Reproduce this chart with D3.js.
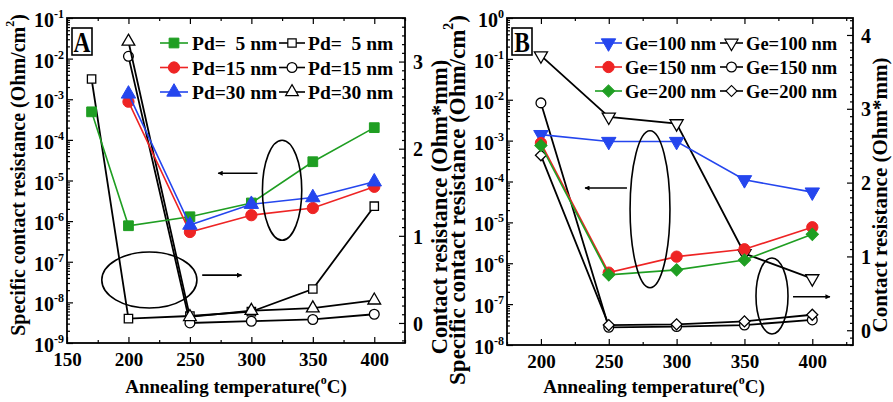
<!DOCTYPE html>
<html><head><meta charset="utf-8">
<script src="https://cdn.jsdelivr.net/npm/d3@7"></script>
<style>
body{margin:0;background:#fff}
svg text{font-family:"Liberation Serif","Times New Roman",serif;font-weight:bold;fill:#000}
</style></head><body>
<svg id="chart" width="893" height="402"></svg>
<script>
// ---- Panel A: Pd layer thickness ----
const tempsA5 = [170, 200, 250, 300, 350, 400];
const tempsA = [200, 250, 300, 350, 400];
const rcPd5 = [4.9e-4, 7.7e-7, 1.28e-6, 2.8e-6, 2.9e-5, 2.0e-4];
const rcPd15 = [8.7e-4, 5.4e-7, 1.4e-6, 2.1e-6, 7.0e-6];
const rcPd30 = [1.35e-3, 8.0e-7, 2.6e-6, 3.8e-6, 9.3e-6];
const rPd5 = [2.80, 0.05, 0.08, 0.13, 0.39, 1.34];
const rPd15 = [3.06, 0.00, 0.02, 0.04, 0.10];
const rPd30 = [3.23, 0.07, 0.14, 0.17, 0.26];

// ---- Panel B: Ge layer thickness ----
const tempsB = [200, 250, 300, 350, 400];
const rcGe100 = [1.4e-3, 9.5e-4, 9.5e-4, 1.1e-4, 5.5e-5];
const rcGe150 = [8.7e-4, 5.9e-7, 1.45e-6, 2.2e-6, 7.6e-6];
const rcGe200 = [7.6e-4, 5.2e-7, 6.9e-7, 1.2e-6, 5.1e-6];
const rGe100 = [3.72, 2.89, 2.80, 1.04, 0.70];
const rGe150 = [3.08, 0.04, 0.05, 0.07, 0.14];
const rGe200 = [2.37, 0.07, 0.08, 0.12, 0.21];

// ---- Tick labels ----
const xTicksA = [150, 200, 250, 300, 350, 400];
const xTicksB = [200, 250, 300, 350, 400];
const logExpA = [-9, -8, -7, -6, -5, -4, -3, -2, -1];
const logExpB = [-8, -7, -6, -5, -4, -3, -2, -1, 0];
const rTicksA = [0, 1, 2, 3];
const rTicksB = [0, 1, 2, 3, 4];

const C_GREEN = "#1f9e22", C_RED = "#ee2424", C_BLUE = "#2546ee";

const svg = d3.select("#chart");
const defs = svg.append("defs");
defs.append("marker").attr("id", "arrowhead").attr("viewBox", "0 0 10 10")
  .attr("refX", 9).attr("refY", 5).attr("markerWidth", 7).attr("markerHeight", 5)
  .attr("markerUnits", "userSpaceOnUse").attr("orient", "auto")
  .append("path").attr("d", "M0,0L10,5L0,10Z").attr("fill", "#000");

function symbolPath(kind, size) {
  const map = {square: d3.symbolSquare, circle: d3.symbolCircle, triangle: d3.symbolTriangle,
               down: d3.symbolTriangle, diamond: d3.symbolSquare};
  return d3.symbol().type(map[kind]).size(size)();
}
function symbolRotate(kind) {
  return kind === "down" ? 180 : kind === "diamond" ? 45 : 0;
}

function drawPanel(p) {
  const g = svg.append("g");
  const x = d3.scaleLinear().domain(p.xDomain).range([p.left, p.right]);
  const y = d3.scaleLog().domain(p.yDomain).range([p.bottom, p.top]);
  const y2 = d3.scaleLinear().domain(p.y2Domain).range([p.bottom, p.top]);

  // tick marks (pointing inward)
  const tickStyle = sel => { sel.select(".domain").remove(); sel.selectAll("line").attr("stroke", "#000").attr("stroke-width", 1.2); };
  const xMinor = d3.range(p.xDomain[0], p.xDomain[1] + 1, 25).filter(v => v % 50 !== 0);
  [["bottom", p.bottom, d3.axisBottom], ["top", p.top, d3.axisTop]].forEach(([side, pos, ax]) => {
    g.append("g").attr("transform", `translate(0,${pos})`)
      .call(ax(x).tickValues(p.xTicks).tickSize(-6).tickFormat(side === "bottom" ? d3.format("d") : () => "").tickPadding(9))
      .call(tickStyle)
      .call(s => s.selectAll("text").attr("font-size", 19).attr("font-family", null).attr("dy", "0.72em"));
    g.append("g").attr("transform", `translate(0,${pos})`)
      .call(ax(x).tickValues(xMinor).tickSize(-3).tickFormat(() => ""))
      .call(tickStyle);
  });

  // log axis (left)
  const decades = p.logExp.map(e => Math.pow(10, e));
  const minorLog = [];
  for (let e = p.logExp[0]; e < p.logExp[p.logExp.length - 1]; e++)
    for (let m = 2; m <= 9; m++) minorLog.push(m * Math.pow(10, e));
  g.append("g").attr("transform", `translate(${p.left},0)`)
    .call(d3.axisLeft(y).tickValues(decades).tickSize(-6).tickFormat(() => ""))
    .call(tickStyle);
  g.append("g").attr("transform", `translate(${p.left},0)`)
    .call(d3.axisLeft(y).tickValues(minorLog).tickSize(-3).tickFormat(() => ""))
    .call(tickStyle);
  p.logExp.forEach((e, i) => {
    const t = g.append("text").attr("x", p.left - 3).attr("y", y(decades[i]) + 9)
      .attr("text-anchor", "end").attr("font-size", 20);
    t.append("tspan").text("10");
    t.append("tspan").attr("dy", -9).attr("font-size", 12).text(e === 0 ? "0" : "-" + Math.abs(e));
  });

  // linear axis (right)
  const rMinor = d3.range(Math.ceil(p.y2Domain[0] * 10), Math.floor(p.y2Domain[1] * 10) + 1)
    .filter(v => v % 10 !== 0).map(v => v / 10);
  g.append("g").attr("transform", `translate(${p.right},0)`)
    .call(d3.axisRight(y2).tickValues(p.rTicks).tickSize(-6).tickPadding(8).tickFormat(d3.format("d")))
    .call(tickStyle)
    .call(s => s.selectAll("text").attr("font-size", 20).attr("font-family", null).attr("dy", "0.36em"));
  g.append("g").attr("transform", `translate(${p.right},0)`)
    .call(d3.axisRight(y2).tickValues(rMinor).tickSize(-3).tickFormat(() => ""))
    .call(tickStyle);

  // frame
  g.append("rect").attr("x", p.left).attr("y", p.top)
    .attr("width", p.right - p.left).attr("height", p.bottom - p.top)
    .attr("fill", "none").attr("stroke", "#000").attr("stroke-width", 1.8);

  // series
  const lineL = d3.line().x(d => x(d[0])).y(d => y(d[1]));
  const lineR = d3.line().x(d => x(d[0])).y(d => y2(d[1]));
  const plot = (s, scaleY, lineGen) => {
    const pts = s.t.map((t, i) => [t, s.v[i]]);
    g.append("path").datum(pts).attr("d", lineGen).attr("fill", "none")
      .attr("stroke", s.color).attr("stroke-width", s.filled ? 1.6 : 1.8);
    g.selectAll(null).data(pts).join("path")
      .attr("transform", d => `translate(${x(d[0])},${scaleY(d[1])}) rotate(${symbolRotate(s.sym)})`)
      .attr("d", symbolPath(s.sym, s.size))
      .attr("fill", s.filled ? s.color : "#fff")
      .attr("stroke", s.filled ? s.color : "#000").attr("stroke-width", s.filled ? 1 : 1.3);
  };
  p.open.forEach(s => plot(s, y2, lineR));
  p.filled.forEach(s => plot(s, y, lineL));

  // annotations: ellipses grouping curves with arrows to their axis
  p.notes.forEach(n => {
    const cx = x(n.cx), cy = y(n.cy);
    const rx = x(n.cx + n.rx) - cx, ry = y(n.cy) - y(n.cy * Math.pow(10, n.ry));
    g.append("ellipse").attr("cx", cx).attr("cy", cy).attr("rx", rx).attr("ry", ry)
      .attr("fill", "none").attr("stroke", "#000").attr("stroke-width", 1.6);
    g.append("line").attr("x1", x(n.ax1)).attr("x2", x(n.ax2)).attr("y1", y(n.ay)).attr("y2", y(n.ay))
      .attr("stroke", "#000").attr("stroke-width", 1.6).attr("marker-end", "url(#arrowhead)");
  });

  // panel letter
  g.append("rect").attr("x", p.left + 5).attr("y", p.top + 10).attr("width", 20).attr("height", 27)
    .attr("fill", "#fff").attr("stroke", "#000").attr("stroke-width", 1.6);
  g.append("text").attr("transform", `translate(${p.left + 15},${p.top + 34}) scale(0.78,1)`)
    .attr("text-anchor", "middle").attr("font-size", 30).text(p.letter);

  // legend
  p.legend.forEach((col, ci) => {
    col.forEach((s, ri) => {
      const ly = p.legY + ri * p.legDy;
      const c = p.legCols[ci];
      g.append("line").attr("x1", c[0]).attr("x2", c[1]).attr("y1", ly).attr("y2", ly)
        .attr("stroke", s.color).attr("stroke-width", 1.6);
      g.append("path").attr("transform", `translate(${(c[0] + c[1]) / 2},${ly}) rotate(${symbolRotate(s.sym)})`)
        .attr("d", symbolPath(s.sym, s.size))
        .attr("fill", s.filled ? s.color : "#fff")
        .attr("stroke", s.filled ? s.color : "#000").attr("stroke-width", s.filled ? 1 : 1.2);
      g.append("text").attr("x", c[2]).attr("y", ly + 7).attr("font-size", p.legFont)
        .attr("xml:space", "preserve").style("white-space", "pre").text(s.label);
    });
  });

  // axis titles
  const xt = g.append("text").attr("x", (p.left + p.right) / 2 + p.xTitleDx).attr("y", 393)
    .attr("text-anchor", "middle").attr("font-size", 19);
  xt.append("tspan").text("Annealing temperature(");
  xt.append("tspan").attr("font-size", 12).attr("dy", -9).text("o");
  xt.append("tspan").attr("dy", 9).text("C)");

  const yt = g.append("text").attr("transform", `translate(${p.yTitle[0]},${p.yTitle[1]}) rotate(-90)`)
    .attr("text-anchor", "middle").attr("dominant-baseline", "central").attr("font-size", p.yTitle[2]);
  yt.append("tspan").text("Specific contact resistance (Ohm/cm");
  yt.append("tspan").attr("font-size", p.yTitle[2] * 0.6).attr("dy", -p.yTitle[2] * 0.4).text("2");
  yt.append("tspan").attr("dy", p.yTitle[2] * 0.4).text(")");

  g.append("text").attr("transform", `translate(${p.y2Title[0]},${p.y2Title[1]}) rotate(-90)`)
    .attr("text-anchor", "middle").attr("dominant-baseline", "central").attr("font-size", p.y2Title[2])
    .text("Contact resistance (Ohm*mm)");
}

const sFill = (t, v, color, sym, label, size) => ({t, v, color, sym, label, size, filled: true});
const sOpen = (t, v, sym, label, size) => ({t, v, color: "#000", sym, label, size, filled: false});

const aF = [sFill(tempsA5, rcPd5, C_GREEN, "square", "Pd=  5 nm", 95),
            sFill(tempsA, rcPd15, C_RED, "circle", "Pd=15 nm", 100),
            sFill(tempsA, rcPd30, C_BLUE, "triangle", "Pd=30 nm", 90)];
const aO = [sOpen(tempsA5, rPd5, "square", "Pd=  5 nm", 70),
            sOpen(tempsA, rPd15, "circle", "Pd=15 nm", 75),
            sOpen(tempsA, rPd30, "triangle", "Pd=30 nm", 70)];
drawPanel({
  letter: "A", left: 67, right: 405, top: 18, bottom: 343,
  xDomain: [150, 425], yDomain: [1e-9, 1e-1], y2Domain: [-0.23, 3.5],
  xTicks: xTicksA, logExp: logExpA, rTicks: rTicksA,
  filled: aF, open: aO,
  legend: [aF, aO], legCols: [[160, 188, 192], [279, 305, 308]], legY: 43, legDy: 24.5, legFont: 19.5,
  notes: [{cx: 325, cy: Math.pow(10, -5.24), rx: 16, ry: 1.23, ax1: 305, ax2: 273, ay: Math.pow(10, -4.82)},
          {cx: 217, cy: Math.pow(10, -7.45), rx: 38.7, ry: 0.69, ax1: 260, ax2: 292, ay: Math.pow(10, -7.33)}],
  xTitleDx: 0, yTitle: [18, 175, 20], y2Title: [439, 207, 22.5]
});

const bF = [sFill(tempsB, rcGe100, C_BLUE, "down", "Ge=100 nm", 90),
            sFill(tempsB, rcGe150, C_RED, "circle", "Ge=150 nm", 100),
            sFill(tempsB, rcGe200, C_GREEN, "diamond", "Ge=200 nm", 75)];
const bO = [sOpen(tempsB, rGe100, "down", "Ge=100 nm", 75),
            sOpen(tempsB, rGe150, "circle", "Ge=150 nm", 75),
            sOpen(tempsB, rGe200, "diamond", "Ge=200 nm", 60)];
drawPanel({
  letter: "B", left: 507, right: 853, top: 18, bottom: 345,
  xDomain: [175, 430], yDomain: [1e-8, 1], y2Domain: [-0.2, 4.23],
  xTicks: xTicksB, logExp: logExpB, rTicks: rTicksB,
  filled: bF, open: bO,
  legend: [bF, bO], legCols: [[595, 622, 625], [720, 743, 746]], legY: 43, legDy: 24, legFont: 18.5,
  notes: [{cx: 280.4, cy: Math.pow(10, -4.68), rx: 14.7, ry: 1.92, ax1: 263.4, ax2: 232.5, ay: Math.pow(10, -4.16)},
          {cx: 370.3, cy: Math.pow(10, -6.8), rx: 11.8, ry: 0.93, ax1: 385.8, ax2: 413, ay: Math.pow(10, -6.82)}],
  xTitleDx: -26, yTitle: [457, 200, 23], y2Title: [880, 195, 21]
});
</script>
</body></html>
